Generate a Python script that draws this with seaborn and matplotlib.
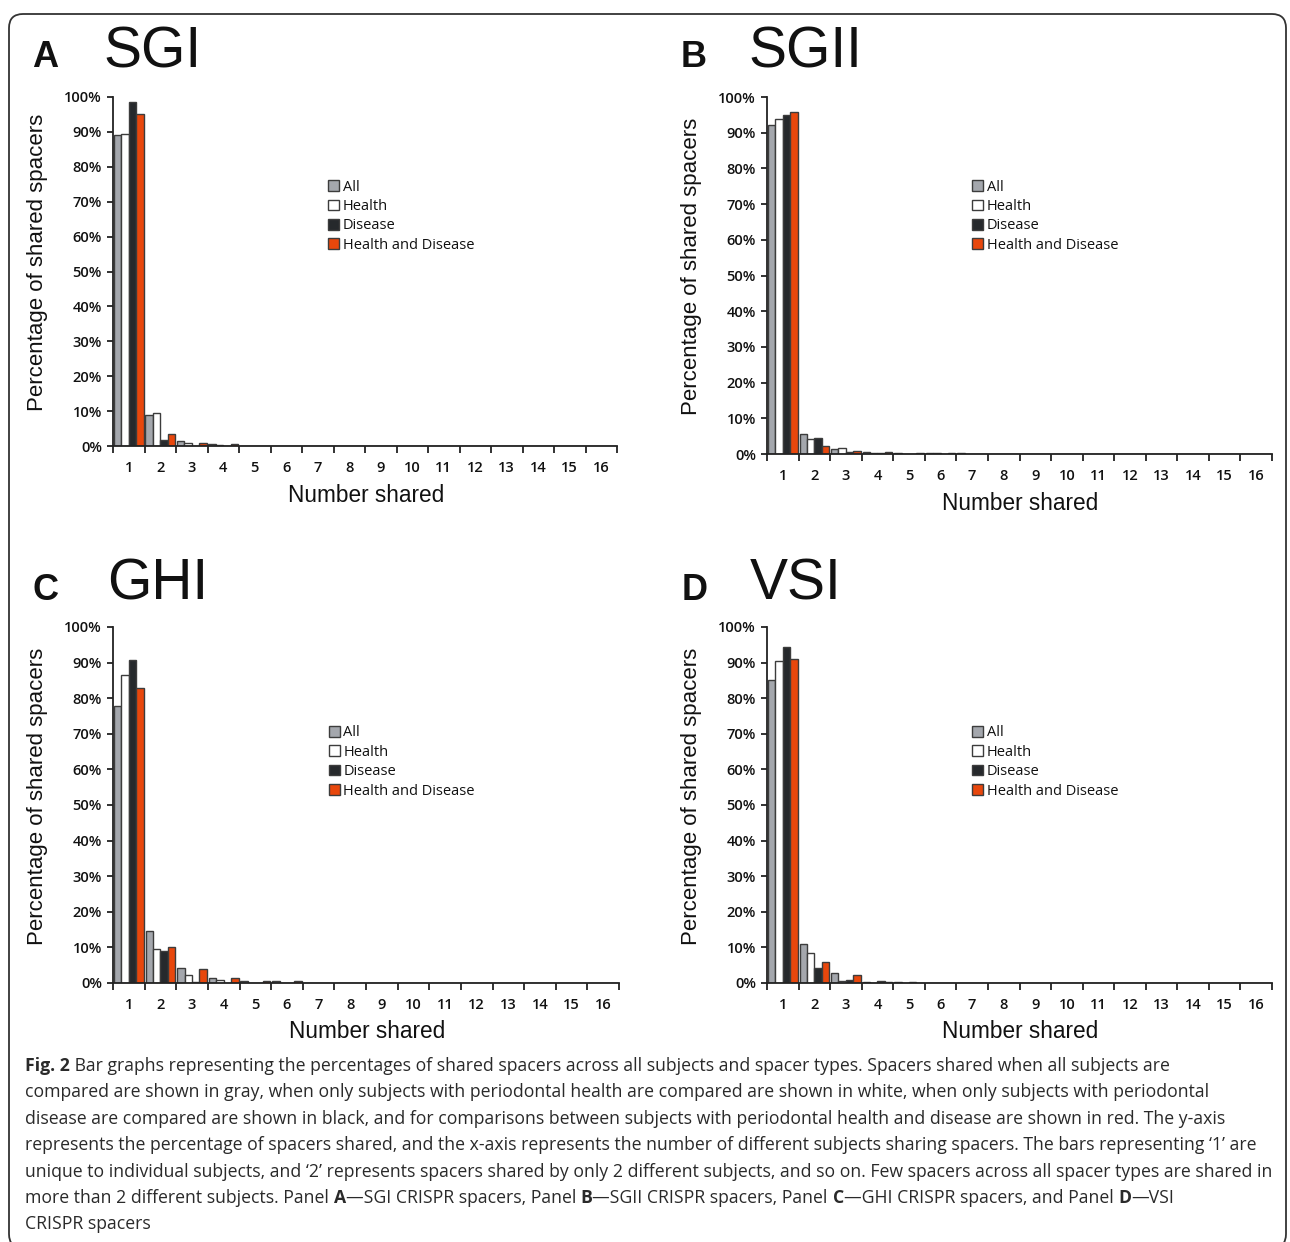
import matplotlib
matplotlib.use('Agg')
import matplotlib.pyplot as plt
import matplotlib.transforms as mtransforms
from matplotlib.patches import Patch, FancyBboxPatch
import numpy as np
import pandas as pd
import seaborn as sns

# Data (percent of spacers, categories 1..16)
shared = list(range(1, 17))
groups = ['All', 'Health', 'Disease', 'Health and Disease']

sgi_all = [89.2, 8.9, 1.3, 0.5, 0, 0, 0, 0, 0, 0, 0, 0, 0, 0, 0, 0]
sgi_health = [89.5, 9.5, 1.0, 0.2, 0, 0, 0, 0, 0, 0, 0, 0, 0, 0, 0, 0]
sgi_disease = [98.5, 1.6, 0.1, 0, 0, 0, 0, 0, 0, 0, 0, 0, 0, 0, 0, 0]
sgi_hd = [95.2, 3.5, 0.9, 0.5, 0, 0, 0, 0, 0, 0, 0, 0, 0, 0, 0, 0]

sgii_all = [92.2, 5.7, 1.3, 0.6, 0.2, 0.2, 0.2, 0, 0, 0, 0, 0, 0, 0, 0, 0]
sgii_health = [93.9, 4.2, 1.7, 0.3, 0, 0.2, 0, 0, 0, 0, 0, 0, 0, 0, 0, 0]
sgii_disease = [94.9, 4.4, 0.6, 0.2, 0.1, 0, 0, 0, 0, 0, 0, 0, 0, 0, 0, 0]
sgii_hd = [95.8, 2.3, 0.9, 0.6, 0.2, 0.2, 0, 0, 0, 0, 0, 0, 0, 0, 0, 0]

ghi_all = [77.7, 14.5, 4.3, 1.3, 0.6, 0.6, 0, 0, 0, 0, 0, 0, 0, 0, 0, 0]
ghi_health = [86.6, 9.6, 2.3, 0.9, 0.1, 0, 0, 0, 0, 0, 0, 0, 0, 0, 0, 0]
ghi_disease = [90.6, 8.9, 0.3, 0, 0, 0, 0, 0, 0, 0, 0, 0, 0, 0, 0, 0]
ghi_hd = [82.8, 10.0, 3.8, 1.3, 0.5, 0.6, 0, 0, 0, 0, 0, 0, 0, 0, 0, 0]

vsi_all = [85.2, 10.9, 2.9, 0.3, 0.3, 0, 0, 0, 0, 0, 0, 0, 0, 0, 0, 0]
vsi_health = [90.4, 8.5, 0.7, 0.1, 0, 0, 0, 0, 0, 0, 0, 0, 0, 0, 0, 0]
vsi_disease = [94.4, 4.2, 0.9, 0.6, 0.2, 0, 0, 0, 0, 0, 0, 0, 0, 0, 0, 0]
vsi_hd = [90.9, 5.8, 2.3, 0.3, 0.1, 0, 0, 0, 0, 0, 0, 0, 0, 0, 0, 0]

panel_letters = ['A', 'B', 'C', 'D']
panel_names = ['SGI', 'SGII', 'GHI', 'VSI']
panel_data = [
    [sgi_all, sgi_health, sgi_disease, sgi_hd],
    [sgii_all, sgii_health, sgii_disease, sgii_hd],
    [ghi_all, ghi_health, ghi_disease, ghi_hd],
    [vsi_all, vsi_health, vsi_disease, vsi_hd],
]

palette = {'All': '#a4a7ad', 'Health': '#ffffff',
           'Disease': '#26292c', 'Health and Disease': '#e8470c'}
edge = '#3c3c3c'

sns.set_theme(style='white')
plt.rcParams['font.family'] = ['Open Sans', 'DejaVu Sans']

W, H = 1290, 1242
fig = plt.figure(figsize=(W / 100, H / 100), dpi=100)
px = mtransforms.IdentityTransform()

# axes boxes in image pixels: left, top(100%), right, bottom(0%)
boxes = [(113, 97, 617, 446), (767, 97, 1272, 454),
         (113, 627, 619, 983), (767, 627, 1272, 983)]
titles_pos = [(32, 103, 67), (681, 748, 67), (32, 107, 600), (682, 750, 600)]
legend_pos = [(0.415, 0.78), (0.395, 0.785), (0.415, 0.74), (0.395, 0.74)]

for i in range(4):
    l, t, r, b = boxes[i]
    ax = fig.add_axes([l / W, 1 - b / H, (r - l) / W, (b - t) / H])
    rows = []
    for g, vals in zip(groups, panel_data[i]):
        for n, v in zip(shared, vals):
            rows.append({'shared': n, 'pct': v, 'group': g})
    df = pd.DataFrame(rows)
    sns.barplot(data=df, x='shared', y='pct', hue='group', hue_order=groups,
                palette=palette, saturation=1, width=0.94, gap=0,
                edgecolor=edge, linewidth=1.0, legend=False, ax=ax)

    ax.set_xlim(-0.5, 15.5)
    ax.set_ylim(0, 100)
    ax.set_xticks(np.arange(16))
    ax.set_xticklabels([str(n) for n in shared])
    ax.set_xticks(np.arange(-0.5, 16, 1), minor=True)
    ax.set_yticks(np.arange(0, 101, 10))
    ax.set_yticklabels([f'{v}%' for v in range(0, 101, 10)])
    ax.tick_params(axis='x', which='major', length=0, pad=11,
                   labelsize=10.5, labelcolor='#111111')
    ax.tick_params(axis='x', which='minor', length=5, width=1.3,
                   direction='out', color='#222222', bottom=True)
    ax.tick_params(axis='y', length=4, width=1.3, direction='out', left=True,
                   pad=4, labelsize=10.5, labelcolor='#111111', color='#222222')
    for lab in ax.get_xticklabels() + ax.get_yticklabels():
        lab.set_fontweight('semibold')
    ax.set_xlabel('')
    ax.set_ylabel('')
    sns.despine(ax=ax)
    for s in ['left', 'bottom']:
        ax.spines[s].set_linewidth(1.3)
        ax.spines[s].set_color('#222222')

    handles = [Patch(facecolor=palette[g], edgecolor=edge, linewidth=1.0, label=g)
               for g in groups]
    ax.legend(handles=handles, loc='upper left', bbox_to_anchor=legend_pos[i],
              frameon=False, fontsize=10.5, handlelength=0.75, handleheight=0.75,
              handletextpad=0.25, labelspacing=0.3, borderaxespad=0,
              labelcolor='#111111')

    # axis labels
    fig.text((l - 75) / W, 1 - ((t + b) / 2 - 9) / H, 'Percentage of shared spacers',
             rotation=90, ha='center', va='center', fontsize=16,
             family=['Liberation Sans', 'DejaVu Sans'], color='#111111')
    fig.text(((l + r) / 2 + 1) / W, 1 - (b + 49) / H, 'Number shared',
             ha='center', va='center', fontsize=16.3,
             family=['Liberation Sans', 'DejaVu Sans'], color='#111111')

    # panel letter and name
    lx, nx, base = titles_pos[i]
    fig.text(lx, H - base, panel_letters[i], transform=px, fontsize=26,
             fontweight='bold', family=['Liberation Sans', 'DejaVu Sans'],
             va='baseline', color='#111111')
    fig.text(nx, H - base, panel_names[i], transform=px, fontsize=41,
             family=['Liberation Sans', 'DejaVu Sans'], va='baseline',
             color='#111111')

# rounded border around the figure
fig.patches.append(FancyBboxPatch((9, -6), 1277, H - 14 + 6,
                                  boxstyle='round,pad=0,rounding_size=14',
                                  transform=px, fill=False,
                                  edgecolor='#333333', linewidth=1.3))

# caption with bold runs
caption = [
    [('Fig. 2', True), (' Bar graphs representing the percentages of shared spacers across all subjects and spacer types. Spacers shared when all subjects are', False)],
    [('compared are shown in gray, when only subjects with periodontal health are compared are shown in white, when only subjects with periodontal', False)],
    [('disease are compared are shown in black, and for comparisons between subjects with periodontal health and disease are shown in red. The y-axis', False)],
    [('represents the percentage of spacers shared, and the x-axis represents the number of different subjects sharing spacers. The bars representing \u20181\u2019 are', False)],
    [('unique to individual subjects, and \u20182\u2019 represents spacers shared by only 2 different subjects, and so on. Few spacers across all spacer types are shared in', False)],
    [('more than 2 different subjects. Panel ', False), ('A', True), ('\u2014SGI CRISPR spacers, Panel ', False), ('B', True),
     ('\u2014SGII CRISPR spacers, Panel ', False), ('C', True), ('\u2014GHI CRISPR spacers, and Panel ', False), ('D', True), ('\u2014VSI', False)],
    [('CRISPR spacers', False)],
]
fig.canvas.draw()
renderer = fig.canvas.get_renderer()
y0 = 1071
for k, line in enumerate(caption):
    x = 25
    y = H - (y0 + k * 26.4)
    for txt, bold in line:
        tt = fig.text(x, y, txt, transform=px, fontsize=12.7, va='baseline',
                      fontweight='bold' if bold else 'normal', color='#2a2a2a')
        x += tt.get_window_extent(renderer).width

fig.savefig('out.png', dpi=100)
